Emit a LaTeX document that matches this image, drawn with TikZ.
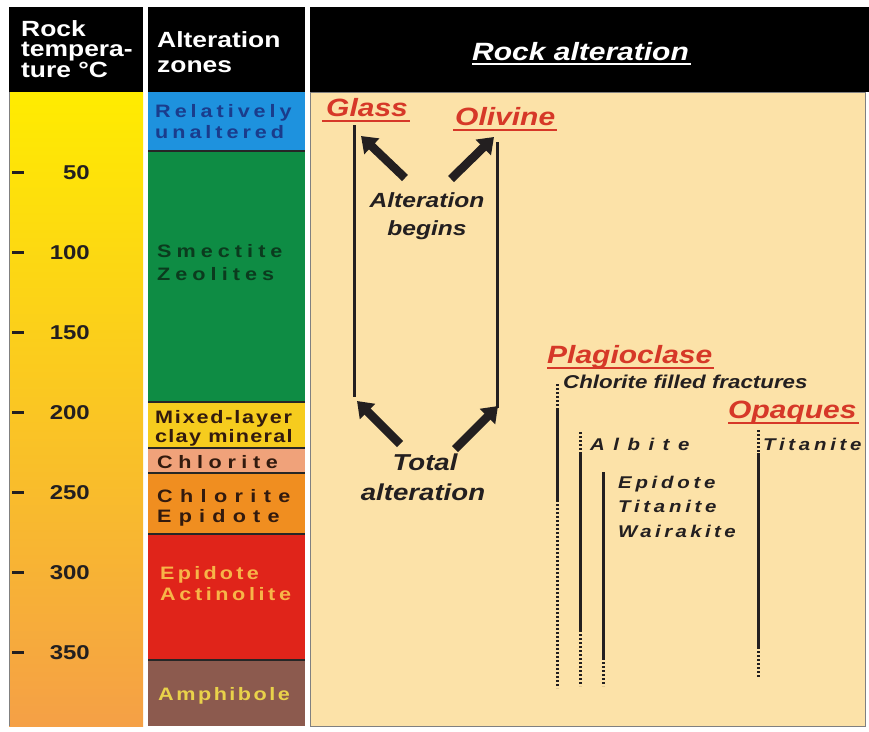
\documentclass[tikz,border=0pt]{standalone}
\usepackage{fontspec}
\setmainfont{Liberation Sans}[FakeStretch=1.2]
\usepackage{tikz}
\usetikzlibrary{arrows.meta,calc}
\definecolor{hot}{RGB}{245, 160, 70}
\definecolor{warm}{RGB}{255, 200, 10}
\definecolor{cool}{RGB}{255, 236, 0}
\definecolor{peach}{RGB}{252, 226, 168}
\definecolor{zblue}{RGB}{30, 146, 222}
\definecolor{zgreen}{RGB}{14, 140, 68}
\definecolor{zyellow}{RGB}{246, 204, 30}
\definecolor{zsalmon}{RGB}{240, 162, 122}
\definecolor{zorange}{RGB}{240, 142, 32}
\definecolor{zred}{RGB}{224, 36, 26}
\definecolor{zbrown}{RGB}{140, 90, 78}
\definecolor{minred}{RGB}{214, 56, 40}
\definecolor{txtdark}{RGB}{35, 31, 32}

\tikzset{
  hdr/.style={text=white, font=\bfseries\fontsize{22}{22}\selectfont, anchor=base west, inner sep=0pt},
  zone/.style={font=\bfseries\fontsize{18}{18}\selectfont\addfontfeatures{LetterSpace=#1}, anchor=base west, inner sep=0pt},
  temp/.style={text=txtdark, font=\bfseries\fontsize{20}{20}\selectfont, anchor=base east, inner sep=0pt},
  mineral/.style={text=minred, font=\bfseries\itshape\fontsize{25}{25}\selectfont, anchor=base west, inner sep=0pt},
  note/.style={text=txtdark, font=\bfseries\itshape\fontsize{17}{17}\selectfont\addfontfeatures{LetterSpace=#1}, anchor=base west, inner sep=0pt},
  uline/.style={minred, line width=2pt},
  rangebar/.style={txtdark, line width=3pt},
  trace/.style={txtdark, line width=3pt, dash pattern=on 2pt off 2pt},
  bigarrow/.style={txtdark, line width=8.5pt, -{Triangle[length=15pt,width=21pt]}},
  zline/.style={black!85, line width=2pt},
}

\begin{document}
\begin{tikzpicture}[x=1pt,y=-1pt]
\useasboundingbox (0,0) rectangle (869,731);
\fill [white] (0,0) rectangle (869,731);

% header band
\fill [black] (9,7) rectangle (143,92);
\fill [black] (148,7) rectangle (305,92);
\fill [black] (310,7) rectangle (869,92);
\node [hdr] (hrock) at (21,36) {Rock};
\node [hdr] (htemp) at (21,56) {tempera-};
\node [hdr] (hture) at (21,77) {ture °C};
\node [hdr] (halt) at (157,47) {Alteration};
\node [hdr] (hzones) at (157,72) {zones};
\node [mineral, text=white] (hrockalt) at (472,60) {Rock alteration};
\draw [white, line width=2pt] ($(hrockalt.base west)+(0,4)$) -- ($(hrockalt.base east)+(2,4)$);

% temperature column
\shade [top color=cool, middle color=warm, bottom color=hot] (9,92) rectangle (143,726);
\draw [gray, line width=1pt] (9.5,92) -- (9.5,726);
\foreach \t in {50,100,...,350} {
  \draw [txtdark, line width=3pt] (12,{92+1.6*\t}) -- (24,{92+1.6*\t});
  \node [temp] (t\t) at (90,{99+1.6*\t}) {\t};
}

% alteration zones
\fill [zblue] (148,92) rectangle (305,151);
\fill [zgreen] (148,151) rectangle (305,402);
\fill [zyellow] (148,402) rectangle (305,448);
\fill [zsalmon] (148,448) rectangle (305,473);
\fill [zorange] (148,473) rectangle (305,534);
\fill [zred] (148,534) rectangle (305,660);
\fill [zbrown] (148,660) rectangle (305,726);
\foreach \y in {151,402,448,473,534,660}
  \draw [zline] (148,\y) -- (305,\y);

\node [zone=22, text={rgb,255:red,26;green,60;blue,140}] (zrel) at (155,117) {Relatively};
\node [zone=22, text={rgb,255:red,26;green,60;blue,140}] (zunalt) at (155,138) {unaltered};
\node [zone=28, text={rgb,255:red,11;green,59;blue,30}] (zsmec) at (157,257) {Smectite};
\node [zone=28, text={rgb,255:red,11;green,59;blue,30}] (zzeol) at (157,280) {Zeolites};
\node [zone=10, text={rgb,255:red,50;green,26;blue,14}] (zmixed) at (155,423) {Mixed-layer};
\node [zone=7, text={rgb,255:red,50;green,26;blue,14}] (zclay) at (155,442) {clay mineral};
\node [zone=31, text={rgb,255:red,50;green,26;blue,14}] (zchl) at (157,468) {Chlorite};
\node [zone=41, text={rgb,255:red,50;green,26;blue,14}] (zchlep) at (157,502) {Chlorite};
\node [zone=40, text={rgb,255:red,50;green,26;blue,14}] (zepch) at (157,522) {Epidote};
\node [zone=18, text={rgb,255:red,247;green,181;blue,72}] (zepid) at (160,579) {Epidote};
\node [zone=20, text={rgb,255:red,247;green,181;blue,72}] (zactin) at (160,600) {Actinolite};
\node [zone=14, text={rgb,255:red,233;green,210;blue,74}] (zamph) at (158,700) {Amphibole};

% rock alteration panel
\filldraw [fill=peach, draw=gray, line width=1pt] (310,92) rectangle (865,726);

\node [mineral] (glass) at (326,116) {Glass};
\draw [uline] ($(glass.base west)+(-4,5)$) -- ($(glass.base east)+(2,5)$);
\node [mineral] (olivine) at (455,125) {Olivine};
\draw [uline] ($(olivine.base west)+(-2,5)$) -- ($(olivine.base east)+(2,5)$);
\draw [rangebar] (354,125) -- (354,397);
\draw [rangebar] (497,142) -- (497,408);

\node [note=0, font=\bfseries\itshape\fontsize{20.5}{20.5}\selectfont] (albeg) at (427,207) [anchor=base] {Alteration};
\node [note=0, font=\bfseries\itshape\fontsize{20.5}{20.5}\selectfont] (begins) at (427,235) [anchor=base] {begins};
\node [note=0, font=\bfseries\itshape\fontsize{23}{23}\selectfont] (total) at (425,470) [anchor=base] {Total};
\node [note=0, font=\bfseries\itshape\fontsize{23}{23}\selectfont] (totalt) at (423,500) [anchor=base] {alteration};

\coordinate (a1tail) at (405,178); \coordinate (a1tip) at (361,136);
\coordinate (a2tail) at (451,179); \coordinate (a2tip) at (494,137);
\coordinate (a3tail) at (400,444); \coordinate (a3tip) at (357,401);
\coordinate (a4tail) at (455,449); \coordinate (a4tip) at (498,406);
\draw [bigarrow] (a1tail) -- (a1tip);
\draw [bigarrow] (a2tail) -- (a2tip);
\draw [bigarrow] (a3tail) -- (a3tip);
\draw [bigarrow] (a4tail) -- (a4tip);

% plagioclase
\node [mineral] (plag) at (547,363) {Plagioclase};
\draw [uline] ($(plag.base west)+(0,5)$) -- ($(plag.base east)+(2,5)$);
\node [note=0, font=\bfseries\itshape\fontsize{18.6}{18.6}\selectfont] (chlfr) at (563,388) {Chlorite filled fractures};
\draw [trace] (557,384) -- (557,408);
\draw [rangebar] (557,408) -- (557,500);
\draw [trace] (557,500) -- (557,688);

\node [note=50] (albite) at (590,450) {Albite};
\draw [trace] (580,432) -- (580,452);
\draw [rangebar] (580,452) -- (580,630);
\draw [trace] (580,630) -- (580,686);

\node [note=22] (epid) at (618,488) {Epidote};
\node [note=22] (titan) at (618,512) {Titanite};
\node [note=20] (wair) at (618,537) {Wairakite};
\draw [rangebar] (603,472) -- (603,658);
\draw [trace] (603,658) -- (603,686);

% opaques
\node [mineral] (opaq) at (728,418) {Opaques};
\draw [uline] ($(opaq.base west)+(0,5)$) -- ($(opaq.base east)+(2,5)$);
\node [note=22] (titop) at (763,450) {Titanite};
\draw [trace] (758,430) -- (758,453);
\draw [rangebar] (758,453) -- (758,647);
\draw [trace] (758,647) -- (758,678);
\end{tikzpicture}
\end{document}
